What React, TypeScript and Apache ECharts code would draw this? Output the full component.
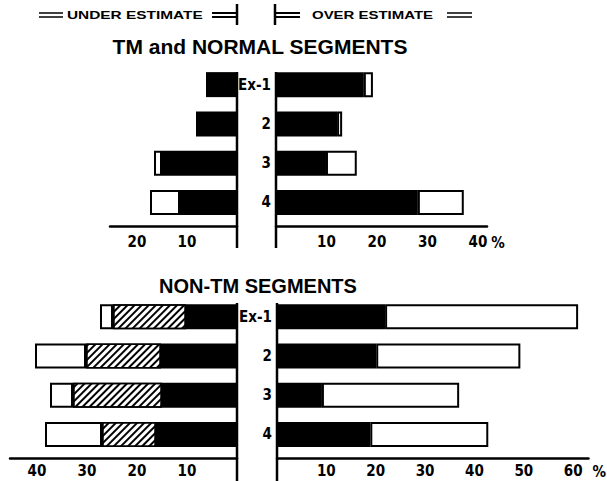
import React, { useEffect, useRef } from 'react';
import * as echarts from 'echarts';

// ---- data (percent of segments) ----
const categories = ['Ex-1', '2', '3', '4'];

// TM and NORMAL SEGMENTS
const tmUnderSolid = [6.2, 8.2, 15.0, 11.4];
const tmUnderOpen = [null, null, 1.6, 6.0];
const tmOverSolid = [17.4, 12.1, 9.9, 28.1];
const tmOverOpen = [1.8, 1.0, 6.1, 9.1];

// NON-TM SEGMENTS
const nonUnderSolid = [10.2, 15.2, 15.0, 16.2];
const nonUnderHatched = [14.6, 15.0, 17.8, 10.8];
const nonUnderOpen = [2.6, 10.2, 4.6, 11.4];
const nonOverSolid = [21.9, 20.1, 9.1, 18.9];
const nonOverOpen = [39.1, 29.2, 27.8, 23.9];

// axis extents
const tmUnderMax = 25.4;
const tmOverMax = 41.8;
const nonUnderMax = 45.4;
const nonOverMax = 63.1;

const LABEL_FONT = "'Liberation Sans Narrow', 'Arial Narrow', 'DejaVu Sans Condensed', sans-serif";
const TITLE_FONT = "'Liberation Sans', Arial, sans-serif";
const LABEL_SIZE = 15;

function valueAxis(gridIndex: number, max: number, inverse: boolean, margin: number, pct: boolean) {
  return {
    type: 'value',
    gridIndex,
    min: 0,
    max,
    interval: 10,
    inverse,
    offset: 4,
    axisLine: { show: true, onZero: false, lineStyle: { color: '#000', width: 2.5 } },
    axisTick: { show: false },
    splitLine: { show: false },
    axisLabel: {
      color: '#000',
      fontFamily: LABEL_FONT,
      fontWeight: 'bold',
      fontSize: LABEL_SIZE,
      margin,
      formatter: (v: number) => (v > 0 && Math.abs(v % 10) < 1e-6 ? String(v) : ''),
    },
    name: pct ? '%' : '',
    nameLocation: 'end',
    nameGap: 4,
    nameTextStyle: {
      color: '#000',
      fontFamily: LABEL_FONT,
      fontWeight: 'bold',
      fontSize: LABEL_SIZE,
      verticalAlign: 'top',
      align: 'left',
      padding: [margin + 1, 0, 0, 0],
    },
  };
}

function catAxis(gridIndex: number, showLabels: boolean) {
  return {
    type: 'category',
    gridIndex,
    data: categories,
    inverse: true,
    axisLine: { show: false },
    axisTick: { show: false },
    axisLabel: {
      show: showLabels,
      color: '#000',
      fontFamily: LABEL_FONT,
      fontWeight: 'bold',
      fontSize: LABEL_SIZE,
      margin: 5,
    },
  };
}

const solidStyle = { color: '#000' };
const openStyle = { color: '#fff', borderColor: '#000', borderWidth: 2 };
const hatchStyle = {
  color: '#fff',
  borderColor: '#000',
  borderWidth: 1.5,
  decal: {
    symbol: 'rect',
    symbolSize: 1,
    color: '#000',
    backgroundColor: '#fff',
    dashArrayX: [1, 0],
    dashArrayY: [1.3, 2.7],
    rotation: -Math.PI / 4,
  },
};

function bar(name: string, data: (number | null)[], idx: number, style: any) {
  return {
    type: 'bar',
    name,
    data,
    xAxisIndex: idx,
    yAxisIndex: idx,
    stack: 'g' + idx,
    barWidth: 25,
    silent: true,
    itemStyle: style,
  };
}

function hLine(x1: number, y1: number, x2: number, y2: number, w: number) {
  return { type: 'line', shape: { x1, y1, x2, y2 }, style: { stroke: '#000', lineWidth: w }, silent: true };
}

export default function App() {
  const ref = useRef<HTMLDivElement>(null);
  useEffect(() => {
    const chart = echarts.init(ref.current!, null, { renderer: 'svg' });
    const option: any = {
      animation: false,
      backgroundColor: '#fff',
      grid: [
        { left: 110, top: 65, width: 127, height: 157 },
        { left: 276, top: 65, width: 211, height: 157 },
        { left: 10, top: 297, width: 227, height: 157 },
        { left: 277, top: 297, width: 320, height: 157 },
      ],
      xAxis: [
        valueAxis(0, tmUnderMax, true, 8, false),
        valueAxis(1, tmOverMax, false, 8, true),
        valueAxis(2, nonUnderMax, true, 5, false),
        valueAxis(3, nonOverMax, false, 5, true),
      ],
      yAxis: [catAxis(0, false), catAxis(1, true), catAxis(2, false), catAxis(3, true)],
      series: [
        bar('TM under (solid)', tmUnderSolid, 0, solidStyle),
        bar('TM under (open)', tmUnderOpen, 0, openStyle),
        bar('TM over (solid)', tmOverSolid, 1, solidStyle),
        bar('TM over (open)', tmOverOpen, 1, openStyle),
        bar('Non-TM under (solid)', nonUnderSolid, 2, solidStyle),
        bar('Non-TM under (hatched)', nonUnderHatched, 2, hatchStyle),
        bar('Non-TM under (open)', nonUnderOpen, 2, openStyle),
        bar('Non-TM over (solid)', nonOverSolid, 3, solidStyle),
        bar('Non-TM over (open)', nonOverOpen, 3, openStyle),
      ],
      graphic: [
        // header legend
        hLine(39, 13, 63, 13, 1.5),
        hLine(39, 17, 63, 17, 1.5),
        {
          type: 'text', x: 67, y: 15, scaleX: 1.4, silent: true,
          style: { text: 'UNDER ESTIMATE', fill: '#000', font: "bold 11px 'Liberation Sans', Arial, sans-serif", align: 'left', verticalAlign: 'middle' },
        },
        hLine(212, 13, 236, 13, 2),
        hLine(212, 17, 236, 17, 2),
        hLine(237, 4, 237, 25, 2.5),
        hLine(275, 4, 275, 25, 2.5),
        hLine(276, 13, 300, 13, 2),
        hLine(276, 17, 300, 17, 2),
        {
          type: 'text', x: 312, y: 15, scaleX: 1.36, silent: true,
          style: { text: 'OVER ESTIMATE', fill: '#000', font: "bold 11px 'Liberation Sans', Arial, sans-serif", align: 'left', verticalAlign: 'middle' },
        },
        hLine(447, 13, 472, 13, 1.5),
        hLine(447, 17, 472, 17, 1.5),
        // titles
        {
          type: 'text', x: 260, y: 46, silent: true,
          style: { text: 'TM and NORMAL SEGMENTS', fill: '#000', font: `bold 21px ${TITLE_FONT}`, align: 'center', verticalAlign: 'middle' },
        },
        {
          type: 'text', x: 258, y: 286, silent: true,
          style: { text: 'NON-TM SEGMENTS', fill: '#000', font: `bold 20px ${TITLE_FONT}`, align: 'center', verticalAlign: 'middle' },
        },
        // central baselines
        hLine(237, 72, 237, 248, 2.5),
        hLine(276, 72, 276, 248, 2.5),
        hLine(237, 303, 237, 481, 2.5),
        hLine(277, 303, 277, 481, 2.5),
      ],
    };
    chart.setOption(option);
    return () => chart.dispose();
  }, []);
  return (
    <div
      ref={ref}
      style={{ position: 'fixed', left: 0, top: 0, width: 607, height: 481, background: '#fff' }}
    />
  );
}
